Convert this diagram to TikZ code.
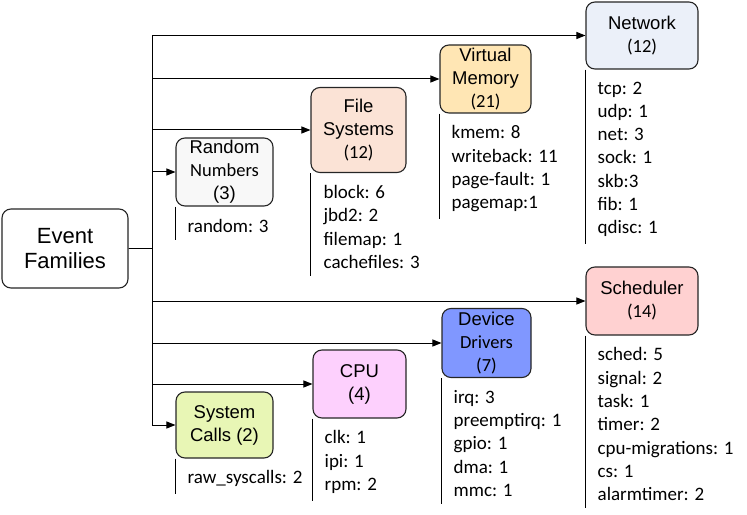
\documentclass[tikz,border=0pt]{standalone}
\usepackage{fontspec}
\setmainfont{Liberation Sans}
\newfontfamily\listfont{Carlito}
\usetikzlibrary{arrows.meta,positioning}
\definecolor{NetFill}{HTML}{EBF0F9}
\definecolor{MemFill}{HTML}{FFE6B4}
\definecolor{FileFill}{HTML}{FBE3D6}
\definecolor{RandFill}{HTML}{F8F8F8}
\definecolor{SchedFill}{HTML}{FFD1D1}
\definecolor{DevFill}{HTML}{8097FF}
\definecolor{CpuFill}{HTML}{FDD0FD}
\definecolor{SysFill}{HTML}{E8F6B5}
\definecolor{Edge}{HTML}{262626}
\tikzset{
  famnode/.style={rounded corners=9bp, draw=Edge, line width=1.1bp, align=center, inner sep=0pt, font=\fontsize{18.5bp}{23bp}\selectfont},
  famlist/.style={anchor=north west, align=left, inner sep=0pt, font=\listfont\fontsize{19bp}{23.3bp}\selectfont},
  branch/.style={-{Triangle[length=9bp, width=7bp]}, line width=1bp},
  rule/.style={line width=0.9bp}
}

\begin{document}
\begin{tikzpicture}[x=1bp, y=-1bp]
    \useasboundingbox (0,0) rectangle (747,515);

    \node[famnode, fill=white, minimum width=126bp, minimum height=79bp, font=\fontsize{22bp}{25bp}\selectfont] (fam) at (65,248.5) {Event\\Families};

    \node[famnode, fill=NetFill, minimum width=112bp, minimum height=67bp] (net) at (642,35.5) {Network\\{\listfont (12)}};
    \node[famnode, fill=MemFill, minimum width=91bp, minimum height=68bp] (vm) at (485.5,79) {Virtual\\Memory\\{\listfont (21)}};
    \node[famnode, fill=FileFill, minimum width=95bp, minimum height=85bp] (fs) at (358.5,130) {File\\Systems\\{\listfont (12)}};
    \node[famnode, fill=RandFill, minimum width=97bp, minimum height=68bp] (rnd) at (224.5,172) {Random\\{\listfont Numbers}\\(3)};
    \node[famnode, fill=SchedFill, minimum width=112bp, minimum height=68bp] (sched) at (642,301) {Scheduler\\{\listfont (14)}};
    \node[famnode, fill=DevFill, minimum width=89bp, minimum height=69bp] (dev) at (486.5,343) {Device\\{\listfont Drivers}\\{\listfont (7)}};
    \node[famnode, fill=CpuFill, minimum width=93bp, minimum height=68bp] (cpu) at (359.5,384) {CPU\\(4)};
    \node[famnode, fill=SysFill, minimum width=97bp, minimum height=66bp] (sys) at (224.5,425) {System\\Calls (2)};

    % event lists under each family
    \node[famlist] (net-list) at ([xshift=12bp, yshift=-12bp]net.south west) {tcp: 2\\udp: 1\\net: 3\\sock: 1\\skb:3\\fib: 1\\qdisc: 1};
    \node[famlist] (vm-list) at ([xshift=12bp, yshift=-12bp]vm.south west) {kmem: 8\\writeback: 11\\page-fault: 1\\pagemap:1};
    \node[famlist] (fs-list) at ([xshift=13bp, yshift=-12bp]fs.south west) {block: 6\\jbd2: 2\\filemap: 1\\cachefiles: 3};
    \node[famlist] (rnd-list) at ([xshift=12bp, yshift=-13bp]rnd.south west) {random: 3};
    \node[famlist] (sched-list) at ([xshift=12bp, yshift=-12bp]sched.south west) {sched: 5\\signal: 2\\task: 1\\timer: 2\\cpu-migrations: 1\\cs: 1\\alarmtimer: 2};
    \node[famlist] (dev-list) at ([xshift=12bp, yshift=-12bp]dev.south west) {irq: 3\\preemptirq: 1\\gpio: 1\\dma: 1\\mmc: 1};
    \node[famlist] (cpu-list) at ([xshift=12bp, yshift=-12bp]cpu.south west) {clk: 1\\ipi: 1\\rpm: 2};
    \node[famlist] (sys-list) at ([xshift=12bp, yshift=-12bp]sys.south west) {raw\_syscalls: 2};

    \foreach \fam in {net,vm,fs,rnd,sched,dev,cpu,sys}
      \draw[branch] (fam.east) -- ++(24,0) |- (\fam.west);
    \foreach \fam in {net,vm,fs,rnd,sched,dev,cpu,sys}
      \draw[rule] (\fam.south west) -- ([yshift=-7bp]\fam.south west |- \fam-list.south);
\end{tikzpicture}
\end{document}
